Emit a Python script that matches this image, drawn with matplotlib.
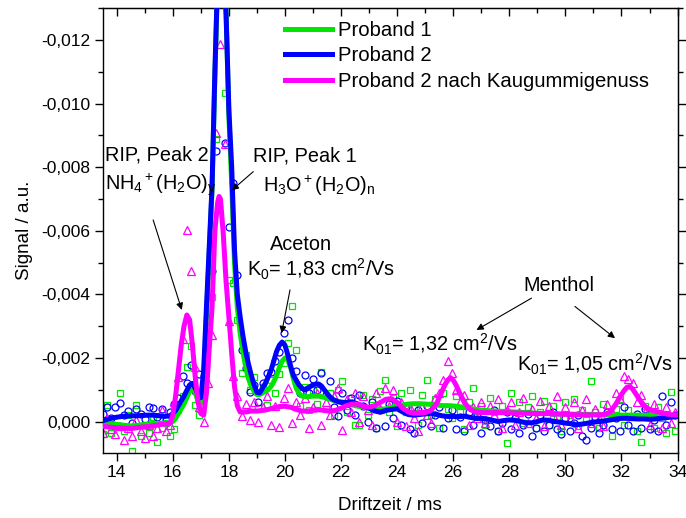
import numpy as np
import matplotlib
matplotlib.use("Agg")
import matplotlib.pyplot as plt
from matplotlib.ticker import MultipleLocator, FuncFormatter
from matplotlib.lines import Line2D

plt.rcParams['font.family'] = ['Liberation Sans', 'DejaVu Sans']
plt.rcParams['mathtext.fontset'] = 'custom'
plt.rcParams['mathtext.rm'] = 'Liberation Sans'
plt.rcParams['mathtext.it'] = 'Liberation Sans:italic'
plt.rcParams['mathtext.default'] = 'regular'

# signal values below are given in units of 1e-3 a.u.
UNIT = 1e-3

# ---- smoothed spectra -------------------------------------------------------
p1_x = [13.5, 13.7, 13.9, 14.1, 14.3, 14.5, 14.7, 14.9, 15.1, 15.3, 15.5, 15.7, 15.9,
        16.0, 16.1, 16.2, 16.3, 16.4, 16.5, 16.6, 16.7, 16.8, 16.9, 17.0, 17.1, 17.2,
        17.3, 17.4, 17.5, 17.6, 17.7, 17.8, 17.9, 18.0, 18.1, 18.2, 18.3, 18.4, 18.5,
        18.6, 18.7, 18.8, 18.9, 19.0, 19.1, 19.2, 19.3, 19.4, 19.5, 19.6, 19.7, 19.8,
        19.9, 20.0, 20.1, 20.2, 20.3, 20.4, 20.5, 20.6, 20.8, 21.0, 21.2, 21.4, 21.6,
        21.8, 22.0, 22.2, 22.4, 22.6, 22.8, 23.0, 23.2, 23.4, 23.6, 23.8, 24.0, 24.2,
        24.4, 24.6, 24.8, 25.0, 25.2, 25.4, 25.6, 25.8, 26.0, 26.2, 26.4, 26.6, 26.8,
        27.0, 27.4, 27.8, 28.2, 28.6, 29.0, 29.4, 29.8, 30.2, 30.6, 31.0, 31.4, 31.8,
        32.2, 32.6, 33.0, 33.4, 33.8, 34.0]
p1_y = [0.0, 0.05, 0.08, 0.1, 0.12, 0.14, 0.13, 0.1, 0.08, 0.06, 0.06, 0.05, 0.05,
        0.0, -0.1, -0.25, -0.4, -0.55, -0.75, -0.95, -1.05, -0.9, -0.65, -0.55, -1.3, -3.3,
        -5.3, -7.3, -10.8, -13.9, -15.5, -14.8, -12.9, -9.6, -7.5, -5.0, -3.6, -2.8, -2.2,
        -1.7, -1.35, -1.1, -0.95, -0.85, -0.85, -0.9, -0.95, -1.0, -1.1, -1.25, -1.45, -1.7,
        -1.9, -2.0, -1.95, -1.7, -1.35, -1.05, -0.88, -0.8, -0.78, -0.8, -0.8, -0.76, -0.7,
        -0.65, -0.62, -0.58, -0.52, -0.48, -0.45, -0.42, -0.4, -0.38, -0.4, -0.45, -0.5, -0.52,
        -0.55, -0.56, -0.56, -0.55, -0.54, -0.52, -0.5, -0.5, -0.49, -0.47, -0.44, -0.41, -0.38,
        -0.36, -0.33, -0.31, -0.3, -0.28, -0.26, -0.25, -0.24, -0.23, -0.23, -0.22, -0.21, -0.2,
        -0.2, -0.2, -0.19, -0.18, -0.17, -0.16]

p2_x = [13.5, 13.7, 13.9, 14.1, 14.3, 14.5, 14.7, 14.9, 15.1, 15.3, 15.5, 15.7, 15.9,
        16.0, 16.1, 16.2, 16.3, 16.4, 16.5, 16.6, 16.7, 16.8, 16.9, 17.0, 17.1, 17.2,
        17.3, 17.4, 17.5, 17.6, 17.7, 17.8, 17.9, 18.0, 18.1, 18.2, 18.3, 18.4, 18.5,
        18.6, 18.7, 18.8, 18.9, 19.0, 19.1, 19.2, 19.3, 19.4, 19.5, 19.6, 19.7, 19.8,
        19.9, 20.0, 20.1, 20.2, 20.3, 20.4, 20.5, 20.6, 20.7, 20.8, 20.9, 21.0, 21.1,
        21.2, 21.3, 21.4, 21.5, 21.6, 21.7, 21.8, 21.9, 22.0, 22.2, 22.4, 22.6, 22.8,
        23.0, 23.2, 23.4, 23.6, 23.8, 24.0, 24.2, 24.4, 24.6, 24.8, 25.0, 25.2, 25.4,
        25.6, 25.8, 26.0, 26.2, 26.4, 26.6, 26.8, 27.0, 27.2, 27.4, 27.6, 27.8, 28.0,
        28.2, 28.4, 28.6, 28.8, 29.0, 29.2, 29.4, 29.6, 29.8, 30.0, 30.2, 30.4, 30.6,
        30.8, 31.0, 31.2, 31.4, 31.6, 31.8, 32.0, 32.2, 32.4, 32.6, 32.8, 33.0, 33.2,
        33.4, 33.6, 33.8, 34.0]
p2_y = [-0.02, -0.08, -0.12, -0.15, -0.17, -0.18, -0.18, -0.19, -0.2, -0.2, -0.18, -0.16, -0.18,
        -0.25, -0.35, -0.5, -0.65, -0.8, -0.98, -1.15, -1.2, -1.05, -0.85, -0.75, -1.6, -3.6,
        -5.5, -7.4, -11.0, -14.0, -15.5, -14.6, -12.8, -9.8, -8.0, -5.4, -4.0, -3.3, -2.7,
        -2.2, -1.8, -1.45, -1.15, -0.92, -0.9, -1.05, -1.2, -1.4, -1.6, -1.9, -2.2, -2.4,
        -2.5, -2.4, -2.1, -1.75, -1.45, -1.3, -1.15, -1.05, -1.0, -1.05, -1.1, -1.15, -1.18,
        -1.18, -1.12, -1.0, -0.88, -0.78, -0.7, -0.66, -0.62, -0.6, -0.6, -0.62, -0.55, -0.48,
        -0.42, -0.33, -0.3, -0.35, -0.38, -0.4, -0.3, -0.22, -0.2, -0.22, -0.24, -0.26, -0.22,
        -0.18, -0.16, -0.16, -0.15, -0.17, -0.13, -0.1, -0.1, -0.08, -0.04, 0.0, -0.03, -0.05,
        -0.04, 0.0, 0.04, 0.04, 0.0, -0.05, -0.04, 0.0, 0.02, 0.05, 0.07, 0.1, 0.08,
        0.05, 0.02, 0.0, -0.02, -0.05, -0.08, -0.1, -0.1, -0.09, -0.08, -0.08, -0.07, -0.08,
        -0.1, -0.12, -0.14, -0.16]

p2k_x = [13.5, 13.7, 13.9, 14.1, 14.3, 14.5, 14.7, 14.9, 15.1, 15.3, 15.5, 15.7, 15.9,
         16.0, 16.1, 16.2, 16.3, 16.4, 16.5, 16.6, 16.7, 16.8, 16.9, 17.0, 17.1, 17.2,
         17.3, 17.4, 17.5, 17.6, 17.65, 17.7, 17.8, 17.9, 18.0, 18.1, 18.2, 18.3, 18.4,
         18.6, 18.8, 19.0, 19.2, 19.4, 19.6, 19.8, 20.0, 20.2, 20.4, 20.6, 20.8, 21.0,
         21.2, 21.4, 21.6, 21.8, 22.0, 22.2, 22.4, 22.6, 22.8, 23.0, 23.2, 23.4, 23.6,
         23.8, 24.0, 24.2, 24.4, 24.6, 24.8, 25.0, 25.2, 25.4, 25.6, 25.7, 25.8, 25.9,
         26.0, 26.1, 26.2, 26.4, 26.6, 26.8, 27.0, 27.4, 27.8, 28.2, 28.6, 29.0, 29.4,
         29.8, 30.2, 30.6, 31.0, 31.4, 31.6, 31.8, 32.0, 32.1, 32.2, 32.3, 32.4, 32.6,
         32.8, 33.0, 33.2, 33.4, 33.6, 33.8, 34.0]
p2k_y = [0.15, 0.17, 0.19, 0.2, 0.21, 0.22, 0.2, 0.17, 0.16, 0.14, 0.1, 0.08, 0.06,
         -0.2, -0.8, -1.6, -2.4, -3.0, -3.35, -3.2, -2.4, -1.4, -0.6, -0.25, -0.2, -0.9,
         -2.3, -3.6, -6.0, -6.9, -7.08, -7.0, -5.9, -4.4, -3.3, -2.15, -1.1, -0.5, -0.3,
         -0.3, -0.33, -0.33, -0.35, -0.38, -0.43, -0.47, -0.48, -0.45, -0.38, -0.33, -0.33, -0.35,
         -0.37, -0.35, -0.33, -0.35, -0.42, -0.5, -0.55, -0.55, -0.48, -0.45, -0.5, -0.6, -0.7,
         -0.72, -0.6, -0.42, -0.3, -0.26, -0.26, -0.28, -0.35, -0.55, -0.95, -1.15, -1.3, -1.38,
         -1.3, -1.15, -0.95, -0.6, -0.38, -0.3, -0.28, -0.28, -0.28, -0.27, -0.26, -0.25, -0.25,
         -0.23, -0.22, -0.21, -0.21, -0.22, -0.3, -0.55, -0.85, -0.98, -1.08, -1.1, -1.02, -0.75,
         -0.5, -0.38, -0.32, -0.28, -0.24, -0.21, -0.2]

# ---- raw measurement points (sampled every 0.15 ms from 13.5 ms) -------------
raw_start = 13.5
raw_step = 0.15
raw_p1 = [0.40, -0.52, 0.35, 0.15, -0.89, 0.30, -0.20, 0.94, -0.52, 0.45,
          0.10, 0.35, -0.15, 0.63, 0.20, 0.05, 0.45, 0.25, -0.35, -0.80,
          -1.73, -2.36, -0.52, -0.20, -0.90, -2.94, -3.93, -8.88, -16.0, -10.33,
          -4.46, -4.35, -3.20, -1.52, -2.10, -1.00, -1.40, -0.42, -1.10, -0.52,
          -1.30, -0.90, -1.50, -1.84, -2.47, -3.62, -2.25, -0.50, -1.10, -0.35,
          -1.00, -0.55, -1.57, -0.40, -0.90, -0.20, -1.00, -1.26, -0.30, -0.75,
          0.10, 0.10, -0.85, -0.20, -0.70, 0.20, -0.95, -1.30, -0.30, -0.75,
          0.15, -0.90, -0.30, -1.00, -0.45, 0.10, -0.85, -1.31, -0.20, -0.70,
          0.20, -0.90, -0.40, -0.10, -0.80, -0.30, 0.25, -0.60, -1.05, -0.15,
          -0.50, 0.10, -0.75, -0.30, 0.30, -0.50, 0.68, -0.90, -0.20, -0.60,
          0.05, -0.45, -0.80, 0.20, -0.30, -0.65, 0.10, -0.50, -0.15, 0.30,
          -0.60, -0.20, -0.70, 0.15, -0.35, -0.05, -1.26, -0.30, 0.20, -0.55,
          -0.10, 0.45, -0.40, -0.70, 0.10, -0.35, -0.15, 0.30, 0.63, -0.50,
          -0.20, 0.20, -0.45, -0.10, 0.35, -0.94, 0.30]
raw_p2 = [-0.25, -0.47, -0.10, -0.47, -0.58, -0.20, -0.32, 0.05, -0.40, -0.25,
          -0.08, -0.45, -0.42, -0.15, -0.38, -0.05, -0.30, -0.55, -0.75, -1.44,
          -1.20, -1.78, -0.95, -1.50, -1.42, -3.20, -4.75, -8.50, -16.0, -8.76,
          -6.13, -7.50, -4.61, -2.25, -1.68, -0.94, -1.15, -0.60, -1.21, -1.52,
          -1.57, -1.90, -2.20, -2.78, -3.20, -1.99, -1.60, -0.89, -1.47, -0.90,
          -1.35, -1.00, -1.52, -0.85, -1.26, -0.45, -0.16, -0.90, -0.35, -0.75,
          -0.20, -0.85, -0.50, 0.00, -0.60, 0.21, -0.35, 0.15, -0.55, -0.10,
          -0.65, 0.10, -0.45, 0.25, 0.37, -0.35, 0.05, -0.50, 0.15, -0.20,
          -0.45, 0.20, -0.10, -0.35, 0.25, -0.15, 0.30, -0.30, 0.10, -0.25,
          0.35, -0.05, 0.15, -0.35, 0.30, 0.05, -0.30, 0.25, -0.10, 0.35,
          0.10, -0.25, 0.47, 0.20, -0.20, 0.30, 0.10, -0.30, 0.25, 0.40,
          -0.10, 0.30, 0.05, -0.20, 0.45, 0.58, 0.20, -0.15, 0.35, 0.10,
          -0.30, 0.25, -0.10, 0.30, -0.45, 0.10, 0.30, -0.25, 0.20, -0.40,
          0.25, -0.05, 0.30, -0.79, 0.10, -0.60, -0.20]
raw_p2k = [0.35, -0.10, 0.25, 0.40, 0.15, 0.58, 0.20, 0.45, -0.05, 0.30,
           0.52, 0.10, 0.45, 0.20, -0.37, 0.30, 0.10, -0.60, -1.40, -2.60,
           -6.03, -4.75, -1.73, -0.46, 0.03, -1.20, -2.73, -9.07, -11.87, -8.72,
           -3.15, -1.42, -0.79, -0.16, -0.55, -0.05, -0.60, 0.00, -0.45, -0.80,
           0.10, -0.50, 0.16, -0.75, -1.05, 0.05, -0.60, -0.20, -0.75, 0.21,
           -0.45, -0.90, 0.10, -0.60, -0.20, -0.80, -1.05, 0.26, -0.70, -0.30,
           -0.90, 0.00, -0.80, -0.35, 0.10, -0.90, -0.40, -1.05, -0.50, -1.00,
           0.00, -0.60, 0.15, -0.45, -0.10, 0.30, -0.50, -0.20, 0.05, -0.75,
           -0.90, -1.30, -1.89, -1.52, -1.00, -0.60, -0.85, 0.10, -0.45, -0.10,
           -0.60, 0.05, -0.50, -0.20, -0.70, 0.20, -0.35, -0.60, 0.10, -0.30,
           -0.75, 0.05, -0.40, -0.10, -0.65, 0.15, -0.50, -0.20, -0.80, 0.10,
           -0.45, -0.10, -0.60, 0.20, -0.35, -0.70, 0.05, -0.40, -0.10, 0.15,
           -0.55, -0.30, -0.90, -0.70, -1.42, -1.35, -1.20, -0.60, -0.85, -0.30,
           0.10, -0.55, -0.20, 0.20, -0.45, 0.05, -0.30]

labels = ["Proband 1", "Proband 2", "Proband 2 nach Kaugummigenuss"]
GREEN, BLUE, MAGENTA = "#00e600", "#0000ff", "#ff00ff"

fig = plt.figure(figsize=(6.86, 5.18), dpi=100)
ax = fig.add_axes([0.1497, 0.1261, 0.838, 0.858])

def raw_x(vals):
    return raw_start + raw_step * np.arange(len(vals))

ax.plot(raw_x(raw_p1), np.array(raw_p1) * UNIT, ls="none", marker="s", ms=4.6,
        mfc="none", mec=GREEN, mew=0.9, zorder=2)
ax.plot(raw_x(raw_p2), np.array(raw_p2) * UNIT, ls="none", marker="o", ms=5.0,
        mfc="none", mec=BLUE, mew=0.9, zorder=2)
ax.plot(raw_x(raw_p2k), np.array(raw_p2k) * UNIT, ls="none", marker="^", ms=5.4,
        mfc="none", mec=MAGENTA, mew=0.9, zorder=2)

lw = 3.6
ax.plot(p1_x, np.array(p1_y) * UNIT, color=GREEN, lw=lw, solid_joinstyle="round", zorder=3)
ax.plot(p2_x, np.array(p2_y) * UNIT, color=BLUE, lw=lw, solid_joinstyle="round", zorder=4)
ax.plot(p2k_x, np.array(p2k_y) * UNIT, color=MAGENTA, lw=lw, solid_joinstyle="round", zorder=5)

ax.set_xlim(13.5, 34.0)
ax.set_ylim(0.00098, -0.0130)

ax.xaxis.set_major_locator(MultipleLocator(2))
ax.xaxis.set_minor_locator(MultipleLocator(1))
ax.yaxis.set_major_locator(MultipleLocator(0.002))
ax.yaxis.set_minor_locator(MultipleLocator(0.001))
ax.yaxis.set_major_formatter(FuncFormatter(lambda v, p: f"{v:.3f}".replace(".", ",").replace("-0,000", "0,000")))
ax.xaxis.set_major_formatter(FuncFormatter(lambda v, p: f"{v:.0f}"))

ax.tick_params(which="both", direction="out", width=1.0, labelsize=12.5, pad=3)
ax.tick_params(which="major", length=6)
ax.tick_params(which="minor", length=3.5)
for s in ax.spines.values():
    s.set_linewidth(1.0)

top = ax.secondary_xaxis("top")
top.xaxis.set_major_locator(MultipleLocator(2))
top.xaxis.set_minor_locator(MultipleLocator(1))
top.tick_params(which="both", direction="in", labeltop=False, width=1.0)
top.tick_params(which="major", length=6)
top.tick_params(which="minor", length=3.5)
right = ax.secondary_yaxis("right")
right.yaxis.set_major_locator(MultipleLocator(0.002))
right.yaxis.set_minor_locator(MultipleLocator(0.001))
right.tick_params(which="both", direction="out", labelright=False, width=1.0)
right.tick_params(which="major", length=6)
right.tick_params(which="minor", length=3.5)

ax.set_xlabel("Driftzeit / ms", fontsize=13.5, labelpad=12)
ax.set_ylabel("Signal / a.u.", fontsize=13.5, labelpad=6)

handles = [Line2D([], [], color=c, lw=lw) for c in (GREEN, BLUE, MAGENTA)]
ax.legend(handles, labels, loc="upper left", bbox_to_anchor=(0.317, 0.972),
          frameon=False, fontsize=14.6, handlelength=2.3, handletextpad=0.3,
          labelspacing=0.33, borderpad=0, borderaxespad=0)

tfs = 14.3
texts = [
    ("RIP, Peak 2", 13.59, -8.21e-3),
    (r"NH$_4$$^+$(H$_2$O)$_y$", 13.59, -7.29e-3),
    ("RIP, Peak 1", 18.87, -8.18e-3),
    (r"H$_3$O$^+$(H$_2$O)$_n$", 19.23, -7.23e-3),
    ("Aceton", 19.46, -5.40e-3),
    (r"K$_0$= 1,83 cm$^2$/Vs", 18.63, -4.56e-3),
    ("Menthol", 28.49, -4.09e-3),
    (r"K$_{01}$= 1,32 cm$^2$/Vs", 22.73, -2.20e-3),
    (r"K$_{01}$= 1,05 cm$^2$/Vs", 28.26, -1.57e-3),
]
for s, x, y in texts:
    ax.text(x, y, s, fontsize=tfs, ha="left", va="baseline", zorder=6)

arrows = [
    ((15.30, -6.34e-3), (16.32, -3.51e-3)),
    ((18.87, -7.86e-3), (18.10, -7.27e-3)),
    ((20.18, -4.14e-3), (19.88, -2.78e-3)),
    ((28.79, -3.88e-3), (26.83, -2.88e-3)),
    ((30.34, -3.62e-3), (31.77, -2.62e-3)),
]
for tail, head in arrows:
    ax.annotate("", xy=head, xytext=tail,
                arrowprops=dict(arrowstyle="-|>", color="black", lw=0.8,
                                mutation_scale=10, shrinkA=0, shrinkB=0),
                zorder=6)

fig.savefig("out.png", dpi=100)
